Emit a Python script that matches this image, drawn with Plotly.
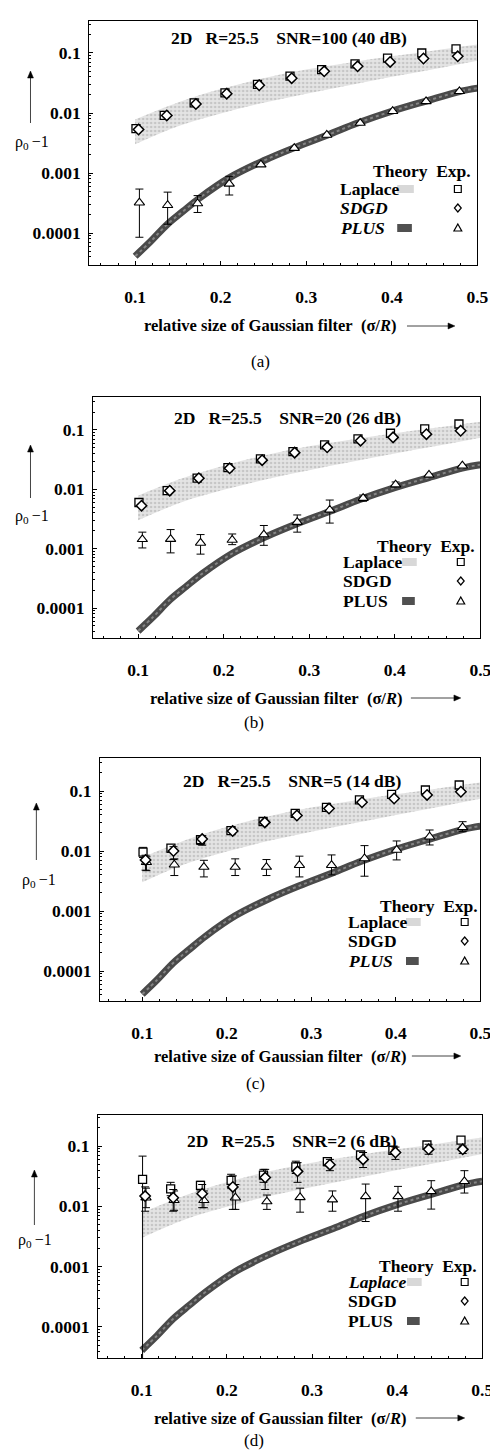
import plotly.graph_objects as go

W, H = 498, 1450
FONT = "Liberation Serif"

# ---------------- data ----------------
# experiment positions (sigma/R)
x_lap  = [0.101, 0.134, 0.169, 0.205, 0.243, 0.281, 0.318, 0.357, 0.395, 0.435, 0.475]
x_sdgd = [0.104, 0.137, 0.171, 0.207, 0.245, 0.283, 0.321, 0.360, 0.398, 0.437, 0.477]
x_plus = [0.105, 0.138, 0.173, 0.210, 0.247, 0.286, 0.324, 0.363, 0.401, 0.440, 0.479]

# theory (same in all panels)
x_plus_theory = [0.100, 0.118, 0.137, 0.156, 0.175, 0.210, 0.250, 0.285, 0.325, 0.360, 0.400, 0.440, 0.480, 0.500]
plus_theory   = [4.1e-5, 7.2e-5, 1.37e-4, 2.3e-4, 3.8e-4, 8.3e-4, 1.6e-3, 2.6e-3, 4.3e-3, 6.8e-3, 1.07e-2, 1.58e-2, 2.3e-2, 2.6e-2]
x_lap_band  = [0.10, 0.15, 0.20, 0.25, 0.30, 0.35, 0.40, 0.45, 0.50]
lap_band_hi = [0.0078, 0.0150, 0.025, 0.038, 0.053, 0.069, 0.088, 0.110, 0.138]
lap_band_lo = [0.0030, 0.0060, 0.0098, 0.0148, 0.021, 0.029, 0.040, 0.054, 0.074]

# (a) SNR=100
a_lap  = [0.0055, 0.0091, 0.0147, 0.0216, 0.030, 0.041, 0.053, 0.066, 0.082, 0.100, 0.117]
a_sdgd = [0.0053, 0.0091, 0.0141, 0.021, 0.029, 0.038, 0.0495, 0.060, 0.071, 0.081, 0.088]
a_plus = [3.2e-4, 2.9e-4, 3.1e-4, 6.6e-4, 1.38e-3, 2.6e-3, 4.3e-3, 6.8e-3, 1.07e-2, 1.56e-2, 2.3e-2]
a_plus_hi = [5.4e-4, 4.8e-4, 4.2e-4, 8.8e-4, None, None, None, None, None, None, None]
a_plus_lo = [8.5e-5, 1.4e-4, 2.2e-4, 4.3e-4, None, None, None, None, None, None, None]

# (b) SNR=20
b_lap  = [0.0060, 0.0095, 0.0154, 0.0232, 0.0325, 0.0433, 0.056, 0.0705, 0.088, 0.104, 0.126]
b_sdgd = [0.0053, 0.0095, 0.0154, 0.0226, 0.031, 0.0415, 0.051, 0.066, 0.075, 0.085, 0.097]
b_plus = [1.44e-3, 1.45e-3, 1.25e-3, 1.4e-3, 1.73e-3, 2.8e-3, 4.5e-3, 7.1e-3, 1.2e-2, 1.75e-2, 2.5e-2]
b_plus_hi = [1.9e-3, 2.1e-3, 1.73e-3, 1.77e-3, 2.46e-3, 3.7e-3, 6.6e-3, 8.0e-3, 1.33e-2, None, None]
b_plus_lo = [1.03e-3, 8.5e-4, 8.1e-4, 1.17e-3, 1.14e-3, 1.9e-3, 2.7e-3, 6.3e-3, 1.1e-2, None, None]

# (c) SNR=5
c_lap  = [0.0096, 0.0112, 0.0154, 0.0218, 0.031, 0.0425, 0.0533, 0.071, 0.088, 0.104, 0.126]
c_lap_hi = [0.0115, 0.0125, 0.018, None, None, None, None, None, None, None, None]
c_lap_lo = [0.0078, 0.0095, 0.0128, None, None, None, None, None, None, None, None]
c_sdgd = [0.0071, 0.010, 0.0158, 0.0215, 0.030, 0.039, 0.051, 0.065, 0.075, 0.086, 0.097]
c_sdgd_hi = [0.0085, 0.0118, 0.018, None, None, None, None, None, None, None, None]
c_sdgd_lo = [0.0048, 0.0072, 0.0125, None, None, None, None, None, None, None, None]
c_plus = [0.0065, 0.0059, 0.0054, 0.0054, 0.0054, 0.0058, 0.0058, 0.0075, 0.0104, 0.0173, 0.0248]
c_plus_hi = [0.0080, 0.0074, 0.0070, 0.0074, 0.0072, 0.0082, 0.0086, 0.0123, 0.0147, 0.0224, 0.0308]
c_plus_lo = [0.0047, 0.0039, 0.0037, 0.0039, 0.0039, 0.0037, 0.0040, 0.0038, 0.0071, 0.0126, 0.0210]

# (d) SNR=2
d_lap  = [0.028, 0.0195, 0.0223, 0.027, 0.033, 0.045, 0.055, 0.071, 0.085, 0.104, 0.125]
d_lap_hi = [0.068, 0.025, 0.026, 0.034, 0.041, 0.056, 0.061, 0.080, 0.094, 0.110, 0.135]
d_lap_lo = [1e-5, 0.015, 0.018, 0.020, 0.025, 0.035, 0.047, 0.062, 0.075, 0.095, 0.115]
d_sdgd = [0.0148, 0.0139, 0.0162, 0.021, 0.030, 0.038, 0.049, 0.060, 0.078, 0.088, 0.088]
d_sdgd_hi = [0.021, 0.019, 0.023, 0.032, 0.041, 0.053, 0.060, 0.078, 0.096, 0.107, 0.100]
d_sdgd_lo = [0.0083, 0.0083, 0.0095, 0.0089, 0.019, 0.025, 0.039, 0.044, 0.060, 0.073, 0.075]
d_plus = [0.0139, 0.0126, 0.0126, 0.0139, 0.0120, 0.0141, 0.0129, 0.0146, 0.0146, 0.0177, 0.026]
d_plus_hi = [0.020, 0.018, 0.018, 0.023, 0.0154, 0.020, 0.018, 0.0234, 0.0214, 0.0266, 0.039]
d_plus_lo = [0.0095, 0.0086, 0.0095, 0.0089, 0.0089, 0.0080, 0.0083, 0.0056, 0.0083, 0.0090, 0.0166]

titles = ["SNR=100 (40 dB)", "SNR=20 (26 dB)", "SNR=5 (14 dB)", "SNR=2 (6 dB)"]
panel_labels = ["(a)", "(b)", "(c)", "(d)"]
legend_names = ["Laplace", "SDGD", "PLUS"]
y_tickvals = [1e-4, 1e-3, 1e-2, 1e-1]
y_ticktext = ["0.0001", "0.001", "0.01", "0.1"]
x_tickvals = [0.1, 0.2, 0.3, 0.4, 0.5]
x_ticktext = ["0.1", "0.2", "0.3", "0.4", "0.5"]

panels_data = [
    dict(lap=a_lap, sdgd=a_sdgd, plus=a_plus, plus_hi=a_plus_hi, plus_lo=a_plus_lo),
    dict(lap=b_lap, sdgd=b_sdgd, plus=b_plus, plus_hi=b_plus_hi, plus_lo=b_plus_lo),
    dict(lap=c_lap, lap_hi=c_lap_hi, lap_lo=c_lap_lo, sdgd=c_sdgd, sdgd_hi=c_sdgd_hi, sdgd_lo=c_sdgd_lo,
         plus=c_plus, plus_hi=c_plus_hi, plus_lo=c_plus_lo),
    dict(lap=d_lap, lap_hi=d_lap_hi, lap_lo=d_lap_lo, sdgd=d_sdgd, sdgd_hi=d_sdgd_hi, sdgd_lo=d_sdgd_lo,
         plus=d_plus, plus_hi=d_plus_hi, plus_lo=d_plus_lo),
]

# ---------------- layout geometry (pixels) ----------------
geo = [
    dict(box=(83, 480, 13, 257), xr=(0.0463, 0.5), yr=(-4.533, -0.467), title=(287, 30),
         ylab=(25, 135), yarrow=(23, 115, 63), xt=(137, 318), xarrow=(408, 457), plab=(258, 353),
         leg_head=(475, 163), leg_x=337, leg_y=(181, 200, 220), sw=(398, 415), mk=460,
         ital=(False, True, True)),
    dict(box=(87, 483, 389, 630), xr=(0.0474, 0.5), yr=(-4.504, -0.445), title=(286, 410),
         ylab=(25, 508), yarrow=(23, 490, 437), xt=(143, 690), xarrow=(412, 463), plab=(252, 714),
         leg_head=(480, 538), leg_x=341, leg_y=(554, 573, 593), sw=(403, 418), mk=463,
         ital=(False, False, False)),
    dict(box=(94, 483, 750, 993), xr=(0.050, 0.5), yr=(-4.5, -0.45), title=(290, 773),
         ylab=(32, 872), yarrow=(29, 852, 795), xt=(147, 1048), xarrow=(413, 463), plab=(253, 1075),
         leg_head=(483, 898), leg_x=346, leg_y=(914, 933, 953), sw=(407, 422), mk=467,
         ital=(False, False, True)),
    dict(box=(92, 485, 1107, 1350), xr=(0.0486, 0.5), yr=(-4.514, -0.486), title=(290, 1133),
         ylab=(28, 1232), yarrow=(27, 1217, 1162), xt=(147, 1410), xarrow=(417, 467), plab=(252, 1432),
         leg_head=(482, 1258), leg_x=346, leg_y=(1274, 1293, 1313), sw=(408, 423), mk=467,
         ital=(True, False, False)),
]

def px(x):
    return x / W

def py(y):
    return 1 - y / H

def err(vals, hi, lo):
    if hi is None:
        return None
    plus = [(h - v) if h is not None else None for v, h in zip(vals, hi)]
    minus = [(v - l) if l is not None else None for v, l in zip(vals, lo)]
    return dict(type="data", symmetric=False, array=plus, arrayminus=minus,
                color="black", thickness=1, width=4)

def path_paper(points):
    return "M " + " L ".join(f"{px(x):.5f},{py(y):.5f}" for x, y in points) + " Z"

def arrow_shapes(x0, y0, x1, y1, head=7, half=3):
    """line from (x0,y0) to head at (x1,y1), pixel coordinates"""
    out = []
    dx, dy = x1 - x0, y1 - y0
    L = (dx * dx + dy * dy) ** 0.5
    ux, uy = dx / L, dy / L
    bx, by = x1 - ux * head, y1 - uy * head
    out.append(dict(type="line", xref="paper", yref="paper", x0=px(x0), y0=py(y0), x1=px(bx), y1=py(by),
                    line=dict(color="#444", width=1)))
    pts = [(x1, y1), (bx - uy * half, by + ux * half), (bx + uy * half, by - ux * half)]
    out.append(dict(type="path", xref="paper", yref="paper", path=path_paper(pts),
                    fillcolor="black", line=dict(color="black", width=0.5)))
    return out

TXT = dict(family=FONT, size=17.5, color="black", weight="bold")

fig = go.Figure()
layout_axes = {}
annotations = []
shapes = []

for i, (d, g) in enumerate(zip(panels_data, geo)):
    n = i + 1
    xa = "x" if n == 1 else f"x{n}"
    ya = "y" if n == 1 else f"y{n}"
    xk = "xaxis" if n == 1 else f"xaxis{n}"
    yk = "yaxis" if n == 1 else f"yaxis{n}"
    l, r, t, b = g["box"]

    # Laplace theory band
    fig.add_trace(go.Scatter(x=x_lap_band, y=lap_band_lo, xaxis=xa, yaxis=ya, mode="lines",
                             line=dict(width=0, shape="spline"), showlegend=False, hoverinfo="skip"))
    fig.add_trace(go.Scatter(x=x_lap_band, y=lap_band_hi, xaxis=xa, yaxis=ya, mode="lines",
                             line=dict(width=0, shape="spline"), fill="tonexty",
                             fillcolor="#dadada",
                             fillpattern=dict(shape=".", bgcolor="#e4e4e4", fgcolor="#a8a8a8",
                                              size=4, solidity=0.35),
                             showlegend=False, hoverinfo="skip"))
    # PLUS theory
    fig.add_trace(go.Scatter(x=x_plus_theory, y=plus_theory, xaxis=xa, yaxis=ya, mode="lines",
                             line=dict(width=7, color="#4a4a4a", shape="spline"),
                             showlegend=False, hoverinfo="skip"))
    fig.add_trace(go.Scatter(x=x_plus_theory, y=plus_theory, xaxis=xa, yaxis=ya, mode="lines",
                             line=dict(width=2, color="#858585", shape="spline", dash="dot"),
                             showlegend=False, hoverinfo="skip"))

    # experiments
    fig.add_trace(go.Scatter(x=x_plus, y=d["plus"], xaxis=xa, yaxis=ya, mode="markers",
                             marker=dict(symbol="triangle-up", size=9, color="white",
                                         line=dict(color="black", width=1.1)),
                             error_y=err(d["plus"], d.get("plus_hi"), d.get("plus_lo")),
                             showlegend=False))
    fig.add_trace(go.Scatter(x=x_lap, y=d["lap"], xaxis=xa, yaxis=ya, mode="markers",
                             marker=dict(symbol="square", size=8, color="white",
                                         line=dict(color="black", width=1.3)),
                             error_y=err(d["lap"], d.get("lap_hi"), d.get("lap_lo")),
                             showlegend=False))
    fig.add_trace(go.Scatter(x=x_sdgd, y=d["sdgd"], xaxis=xa, yaxis=ya, mode="markers",
                             marker=dict(symbol="diamond", size=8, color="white",
                                         line=dict(color="black", width=1.5)),
                             error_y=err(d["sdgd"], d.get("sdgd_hi"), d.get("sdgd_lo")),
                             showlegend=False))

    layout_axes[xk] = dict(domain=[px(l), px(r)], range=list(g["xr"]), anchor=ya,
                           showline=True, mirror=True, linecolor="black", linewidth=1,
                           ticks="inside", ticklen=4, tickcolor="black",
                           tickvals=x_tickvals, ticktext=x_ticktext,
                           minor=dict(ticks="inside", ticklen=2, dtick=0.02, tickcolor="black"),
                           showgrid=False, zeroline=False, ticklabelstandoff=16,
                           tickfont=TXT)
    layout_axes[yk] = dict(domain=[py(b), py(t)], range=list(g["yr"]), type="log", anchor=xa,
                           showline=True, mirror=True, linecolor="black", linewidth=1,
                           ticks="inside", ticklen=4, tickcolor="black",
                           tickvals=y_tickvals, ticktext=y_ticktext,
                           minor=dict(ticks="inside", ticklen=2, tickcolor="black", dtick="D1"),
                           showgrid=False, zeroline=False, ticklabelstandoff=4,
                           tickfont=TXT)

    nb = "\u00a0"
    # title inside
    annotations.append(dict(x=px(g["title"][0]), y=py(g["title"][1]), xref="paper", yref="paper",
                            text=f"2D{nb*3}R=25.5{nb*4}{titles[i]}", showarrow=False,
                            xanchor="center", yanchor="middle", font=TXT))
    # y label and arrow
    annotations.append(dict(x=px(g["ylab"][0]), y=py(g["ylab"][1]), xref="paper", yref="paper",
                            text="ρ<sub>0</sub>\u2009−1", showarrow=False,
                            xanchor="center", yanchor="middle",
                            font=dict(family=FONT, size=16, color="black")))
    ax_, y0_, y1_ = g["yarrow"]
    shapes.extend(arrow_shapes(ax_, y0_, ax_, y1_))
    # x title and arrow
    annotations.append(dict(x=px(g["xt"][0]), y=py(g["xt"][1]), xref="paper", yref="paper",
                            text=f"relative size of Gaussian filter{nb*2}(σ/<i>R</i>)", showarrow=False,
                            xanchor="left", yanchor="middle",
                            font=dict(family=FONT, size=16.5, color="black", weight="bold")))
    xa0, xa1 = g["xarrow"]
    shapes.extend(arrow_shapes(xa0, g["xt"][1], xa1, g["xt"][1]))
    # panel label
    annotations.append(dict(x=px(g["plab"][0]), y=py(g["plab"][1]), xref="paper", yref="paper",
                            text=panel_labels[i], showarrow=False, xanchor="center", yanchor="middle",
                            font=dict(family=FONT, size=17, color="black")))
    # legend
    annotations.append(dict(x=px(g["leg_head"][0]), y=py(g["leg_head"][1]), xref="paper", yref="paper",
                            text=f"Theory{nb*2}Exp.", showarrow=False, xanchor="right", yanchor="middle",
                            font=TXT))
    for k, name in enumerate(legend_names):
        yy = g["leg_y"][k]
        txt = f"<i>{name}</i>" if g["ital"][k] else name
        annotations.append(dict(x=px(g["leg_x"]), y=py(yy), xref="paper", yref="paper",
                                text=txt, showarrow=False, xanchor="left", yanchor="middle",
                                font=TXT))
    mx = g["mk"]
    y_sq, y_di, y_tr = g["leg_y"]
    shapes.append(dict(type="rect", xref="paper", yref="paper", x0=px(mx - 3.5), x1=px(mx + 3.5),
                       y0=py(y_sq + 3.5), y1=py(y_sq - 3.5), fillcolor="white",
                       line=dict(color="black", width=1.2)))
    shapes.append(dict(type="path", xref="paper", yref="paper",
                       path=path_paper([(mx, y_di - 4), (mx + 3.5, y_di), (mx, y_di + 4), (mx - 3.5, y_di)]),
                       fillcolor="white", line=dict(color="black", width=1.2)))
    shapes.append(dict(type="path", xref="paper", yref="paper",
                       path=path_paper([(mx, y_tr - 4), (mx + 4, y_tr + 3), (mx - 4, y_tr + 3)]),
                       fillcolor="white", line=dict(color="black", width=1.2)))
    s0, s1 = g["sw"]
    shapes.append(dict(type="rect", xref="paper", yref="paper", x0=px(s0), x1=px(s1),
                       y0=py(y_sq + 4), y1=py(y_sq - 4),
                       fillcolor="#d8d8d8", line=dict(width=0)))
    shapes.append(dict(type="rect", xref="paper", yref="paper", x0=px(s0), x1=px(s1 - 2),
                       y0=py(y_tr + 4), y1=py(y_tr - 4),
                       fillcolor="#505050", line=dict(width=0)))

fig.update_layout(width=W, height=H, autosize=False,
                  margin=dict(l=0, r=0, t=0, b=0),
                  paper_bgcolor="white", plot_bgcolor="white",
                  showlegend=False, annotations=annotations, shapes=shapes,
                  font=dict(family=FONT, color="black"),
                  **layout_axes)

fig.write_html("out.html")
